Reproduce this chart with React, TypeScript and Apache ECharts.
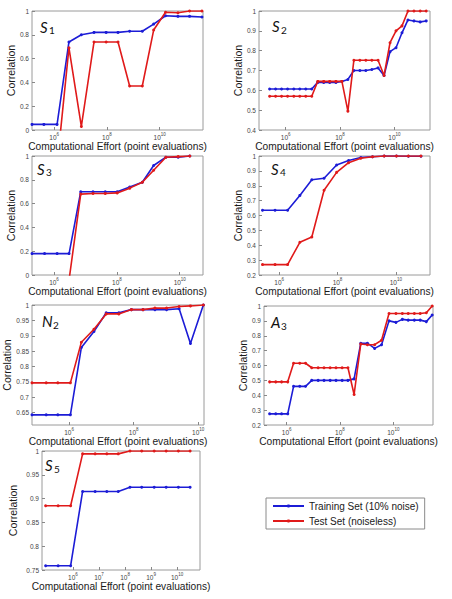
import React, { useEffect, useRef } from "react";
import * as echarts from "echarts";

const TRAIN_NAME = "Training Set (10% noise)";
const TEST_NAME = "Test Set (noiseless)";
const X_TITLE = "Computational Effort (point evaluations)";
const Y_TITLE = "Correlation";

// x values: log10(point evaluations)
const s1LogEffort = [5.16, 5.61, 6.11, 6.56, 7.03, 7.51, 7.97, 8.42, 8.86, 9.34, 9.77, 10.22, 10.69, 11.13, 11.6];
const s1Train = [0.047, 0.047, 0.047, 0.74, 0.8, 0.82, 0.82, 0.82, 0.83, 0.83, 0.89, 0.96, 0.955, 0.955, 0.95];
const s1Test = [-0.3, -0.3, -0.3, 0.69, 0.03, 0.74, 0.74, 0.74, 0.37, 0.37, 0.84, 0.99, 0.985, 1.0, 1.0];

const s2LogEffort = [5.41, 5.63, 5.85, 6.07, 6.3, 6.52, 6.74, 6.96, 7.18, 7.4, 7.62, 7.85, 8.07, 8.29, 8.51, 8.73, 8.95, 9.17, 9.4, 9.62, 9.84, 10.06, 10.28, 10.5, 10.72, 10.95, 11.17];
const s2Train = [0.607, 0.607, 0.607, 0.607, 0.607, 0.607, 0.607, 0.607, 0.64, 0.64, 0.64, 0.64, 0.645, 0.655, 0.7, 0.7, 0.7, 0.705, 0.713, 0.675, 0.795, 0.815, 0.89, 0.955, 0.95, 0.945, 0.95];
const s2Test = [0.57, 0.57, 0.57, 0.57, 0.57, 0.57, 0.57, 0.57, 0.645, 0.645, 0.645, 0.645, 0.645, 0.495, 0.752, 0.752, 0.752, 0.752, 0.752, 0.675, 0.84, 0.9, 0.925, 1.0, 1.0, 1.0, 1.0];

const s3LogEffort = [5.3, 5.7, 6.1, 6.48, 6.85, 7.24, 7.63, 8.01, 8.41, 8.81, 9.17, 9.56, 9.95, 10.32];
const s3Train = [0.18, 0.18, 0.18, 0.18, 0.7, 0.7, 0.7, 0.7, 0.74, 0.78, 0.92, 0.99, 0.99, 1.0];
const s3Test = [-0.3, -0.3, -0.3, -0.04, 0.68, 0.685, 0.685, 0.69, 0.73, 0.78, 0.88, 0.99, 0.995, 1.0];

const s4LogEffort = [5.43, 5.86, 6.29, 6.71, 7.12, 7.54, 7.97, 8.38, 8.8, 9.2, 9.6, 10.02, 10.43, 10.86];
const s4Train = [0.635, 0.635, 0.635, 0.735, 0.84, 0.85, 0.94, 0.97, 0.99, 0.995, 1.0, 1.0, 0.998, 0.998];
const s4Test = [0.27, 0.27, 0.27, 0.42, 0.455, 0.77, 0.89, 0.955, 0.985, 0.995, 1.0, 1.0, 1.0, 1.0];

const n2LogEffort = [4.85, 5.29, 5.65, 6.04, 6.38, 6.77, 7.15, 7.54, 7.93, 8.29, 8.66, 9.02, 9.41, 9.76, 10.16];
const n2Train = [0.643, 0.643, 0.643, 0.643, 0.862, 0.914, 0.975, 0.975, 0.985, 0.985, 0.985, 0.985, 0.988, 0.875, 1.0];
const n2Test = [0.747, 0.747, 0.747, 0.747, 0.879, 0.921, 0.971, 0.971, 0.985, 0.985, 0.99, 0.99, 0.995, 0.997, 1.0];

const a3LogEffort = [5.36, 5.59, 5.81, 6.04, 6.26, 6.49, 6.71, 6.94, 7.18, 7.4, 7.63, 7.85, 8.08, 8.3, 8.53, 8.78, 9.03, 9.3, 9.56, 9.84, 10.1, 10.34, 10.56, 10.79, 11.01, 11.24, 11.46];
const a3Train = [0.275, 0.275, 0.275, 0.275, 0.46, 0.46, 0.46, 0.5, 0.5, 0.5, 0.5, 0.5, 0.5, 0.5, 0.51, 0.75, 0.75, 0.715, 0.74, 0.9, 0.89, 0.91, 0.905, 0.905, 0.905, 0.895, 0.94];
const a3Test = [0.49, 0.49, 0.49, 0.49, 0.615, 0.615, 0.615, 0.585, 0.585, 0.585, 0.585, 0.585, 0.585, 0.585, 0.405, 0.745, 0.74, 0.74, 0.77, 0.95, 0.95, 0.95, 0.95, 0.95, 0.95, 0.955, 1.0];

const s5LogEffort = [4.95, 5.43, 5.91, 6.37, 6.85, 7.3, 7.74, 8.19, 8.64, 9.12, 9.58, 10.05, 10.5];
const s5Train = [0.759, 0.759, 0.759, 0.915, 0.915, 0.915, 0.915, 0.924, 0.924, 0.924, 0.924, 0.924, 0.924];
const s5Test = [0.885, 0.885, 0.885, 0.994, 0.994, 0.994, 0.994, 1.0, 1.0, 1.0, 1.0, 1.0, 1.0];

// tick values
const xTicksEven = [6, 8, 10];
const s5XTicks = [6, 7, 8, 9, 10];
const yTicks0to1 = [0, 0.2, 0.4, 0.6, 0.8, 1];
const yTicks04to1 = [0.4, 0.5, 0.6, 0.7, 0.8, 0.9, 1];
const yTicks02to1 = [0.2, 0.3, 0.4, 0.5, 0.6, 0.7, 0.8, 0.9, 1];
const yTicksN2 = [0.65, 0.7, 0.75, 0.8, 0.85, 0.9, 0.95, 1];
const yTicksS5 = [0.75, 0.8, 0.85, 0.9, 0.95, 1];

const panels = [
  { letter: "S", sub: "1", x: s1LogEffort, train: s1Train, test: s1Test, xTicks: xTicksEven, yTicks: yTicks0to1,
    grid: { left: 32, top: 11, width: 171, height: 119 }, xMin: 5.16, xMax: 11.64, yMin: 0, yMax: 1, yGap: 13, lab: [40, 26.5], subDx: 9 },
  { letter: "S", sub: "2", x: s2LogEffort, train: s2Train, test: s2Test, xTicks: xTicksEven, yTicks: yTicks04to1,
    grid: { left: 259, top: 11, width: 171, height: 119 }, xMin: 5.02, xMax: 11.31, yMin: 0.4, yMax: 1, yGap: 10, lab: [272, 26], subDx: 9 },
  { letter: "S", sub: "3", x: s3LogEffort, train: s3Train, test: s3Test, xTicks: xTicksEven, yTicks: yTicks0to1,
    grid: { left: 32, top: 156, width: 171, height: 119 }, xMin: 5.3, xMax: 10.74, yMin: 0, yMax: 1, yGap: 12, lab: [37, 168.5], subDx: 9 },
  { letter: "S", sub: "4", x: s4LogEffort, train: s4Train, test: s4Test, xTicks: xTicksEven, yTicks: yTicks02to1,
    grid: { left: 259, top: 156, width: 171, height: 119 }, xMin: 5.31, xMax: 11.17, yMin: 0.2, yMax: 1, yGap: 8, lab: [271, 168.5], subDx: 9 },
  { letter: "N", sub: "2", x: n2LogEffort, train: n2Train, test: n2Test, xTicks: xTicksEven, yTicks: yTicksN2,
    grid: { left: 32, top: 305, width: 172, height: 120 }, xMin: 4.85, xMax: 10.18, yMin: 0.61, yMax: 1, yGap: 14, lab: [42, 321], subDx: 11 },
  { letter: "A", sub: "3", x: a3LogEffort, train: a3Train, test: a3Test, xTicks: xTicksEven, yTicks: yTicks02to1,
    grid: { left: 264, top: 306, width: 169, height: 119 }, xMin: 5.15, xMax: 11.49, yMin: 0.2, yMax: 1, yGap: 13, lab: [271, 322], subDx: 10 },
  { letter: "S", sub: "5", x: s5LogEffort, train: s5Train, test: s5Test, xTicks: s5XTicks, yTicks: yTicksS5,
    grid: { left: 42, top: 451, width: 158, height: 119 }, xMin: 4.81, xMax: 10.88, yMin: 0.75, yMax: 1, yGap: 24, lab: [45, 465], subDx: 9 },
];

const BLUE = "#1c1cd6";
const RED = "#e01a1a";
const FONT = "Liberation Sans, Arial, sans-serif";

export default function App() {
  const ref = useRef<HTMLDivElement>(null);
  useEffect(() => {
    if (!ref.current) return;
    const chart = echarts.init(ref.current, undefined, { renderer: "svg" });
    const grids: any[] = [];
    const xAxes: any[] = [];
    const yAxes: any[] = [];
    const series: any[] = [];
    const graphics: any[] = [];
    panels.forEach((p, i) => {
      grids.push({ ...p.grid, show: true, borderColor: "#9a9a9a", borderWidth: 1, backgroundColor: "#fff" });
      xAxes.push({
        type: "value", gridIndex: i, min: p.xMin, max: p.xMax,
        name: X_TITLE, nameLocation: "middle", nameGap: 10,
        nameTextStyle: { fontSize: 10.2, color: "#1a1a1a", fontFamily: FONT },
        axisLine: { show: false },
        splitLine: { show: false },
        axisTick: { show: true, inside: true, length: 3, customValues: p.xTicks, lineStyle: { color: "#888" } },
        axisLabel: {
          customValues: p.xTicks, margin: 2, color: "#444", fontFamily: FONT,
          formatter: (v: number) => "{b|10}{s|" + Math.round(v) + "}",
          rich: {
            b: { fontSize: 6.5, lineHeight: 9, verticalAlign: "bottom", color: "#444", fontFamily: FONT },
            s: { fontSize: 4.5, verticalAlign: "top", color: "#444", fontFamily: FONT },
          },
        },
      });
      yAxes.push({
        type: "value", gridIndex: i, min: p.yMin, max: p.yMax,
        name: Y_TITLE, nameLocation: "middle", nameGap: p.yGap,
        nameTextStyle: { fontSize: 10.5, color: "#1a1a1a", fontFamily: FONT },
        axisLine: { show: false },
        splitLine: { show: false },
        axisTick: { show: true, inside: true, length: 3, customValues: p.yTicks, lineStyle: { color: "#888" } },
        axisLabel: { customValues: p.yTicks, margin: 3, fontSize: 6.5, color: "#444", fontFamily: FONT, formatter: (v: number) => String(v) },
      });
      series.push({
        type: "line", name: TRAIN_NAME, xAxisIndex: i, yAxisIndex: i, clip: true,
        data: p.x.map((x, j) => [x, p.train[j]]),
        color: BLUE, lineStyle: { width: 1.6, color: BLUE }, itemStyle: { color: BLUE },
        symbol: "circle", symbolSize: 3, showSymbol: true, z: 2,
      });
      series.push({
        type: "line", name: TEST_NAME, xAxisIndex: i, yAxisIndex: i, clip: true,
        data: p.x.map((x, j) => [x, p.test[j]]),
        color: RED, lineStyle: { width: 1.6, color: RED }, itemStyle: { color: RED },
        symbol: "circle", symbolSize: 3, showSymbol: true, z: 3,
      });
      graphics.push({
        type: "text", x: p.lab[0], y: p.lab[1], z: 10,
        style: { text: p.letter, fontSize: 15, fontStyle: "italic", fontFamily: "Lato, Open Sans, sans-serif", fill: "#111", align: "left", verticalAlign: "middle" },
      });
      graphics.push({
        type: "text", x: p.lab[0] + p.subDx, y: p.lab[1] + 3.5, z: 10,
        style: { text: p.sub, fontSize: 10, fontFamily: "Lato, Open Sans, sans-serif", fill: "#111", align: "left", verticalAlign: "middle" },
      });
    });
    chart.setOption({
      animation: false,
      backgroundColor: "#fff",
      grid: grids,
      xAxis: xAxes,
      yAxis: yAxes,
      series,
      graphic: graphics,
      legend: {
        data: [TRAIN_NAME, TEST_NAME],
        orient: "vertical",
        left: 266, top: 498,
        padding: [2, 6, 2, 6],
        itemGap: 3,
        itemWidth: 31, itemHeight: 4,
        borderColor: "#8a8a8a", borderWidth: 1,
        backgroundColor: "#fff",
        textStyle: { fontSize: 10, lineHeight: 12, color: "#1a1a1a", fontFamily: FONT },
      },
    });
    return () => chart.dispose();
  }, []);
  return (
    <div style={{ position: "absolute", left: 0, top: 0, width: 452, height: 599, background: "#fff" }}>
      <div ref={ref} style={{ width: 452, height: 599 }} />
    </div>
  );
}
